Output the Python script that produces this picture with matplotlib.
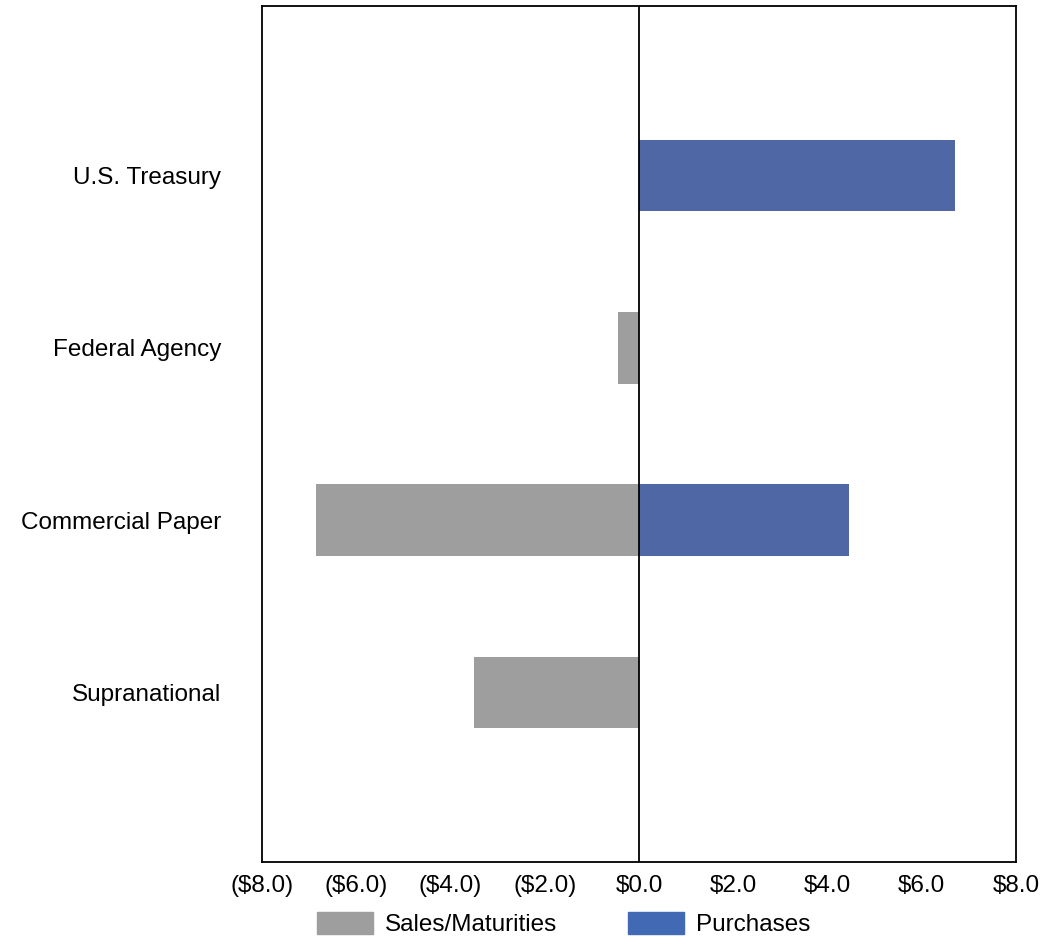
import numpy as np
import matplotlib
matplotlib.use("Agg")
import matplotlib.pyplot as plt
from matplotlib.patches import Patch

plt.rcParams["font.family"] = ["Liberation Sans", "DejaVu Sans"]

# Data ($ millions)
categories = ["U.S. Treasury", "Federal Agency", "Commercial Paper", "Supranational"]
sales = [0.0, -0.45, -6.85, -3.5]
purchases = [6.7, 0.0, 4.45, 0.0]
xticks = [-8, -6, -4, -2, 0, 2, 4, 6, 8]
xlabels = ["($8.0)", "($6.0)", "($4.0)", "($2.0)", "$0.0", "$2.0", "$4.0", "$6.0", "$8.0"]

sales_color = "#9E9E9E"
purch_color = "#4F67A5"

fig = plt.figure(figsize=(10.42, 9.39), dpi=100)
ax = fig.add_axes([0.2514, 0.0820, 0.7236, 0.9116])

y = np.arange(len(categories))
ax.barh(y, sales, height=0.413, color=sales_color)
ax.barh(y, purchases, height=0.413, color=purch_color)
ax.axvline(0, color="black", lw=1.3, zorder=5)

ax.set_xlim(-8, 8)
ax.set_ylim(3.988, -0.988)
ax.set_xticks(xticks)
ax.set_xticklabels(xlabels, fontsize=17.5)
ax.set_yticks(y)
ax.set_yticklabels(categories, fontsize=17.5)
ax.tick_params(axis="x", length=0, pad=9)
ax.tick_params(axis="y", length=0, pad=29.5)
for s in ax.spines.values():
    s.set_linewidth(1.3)
    s.set_color("black")

handles = [Patch(color="#9E9E9E", label="Sales/Maturities"),
           Patch(color="#4169B4", label="Purchases")]
fig.legend(handles=handles, loc="center", bbox_to_anchor=(0.541, 0.016), ncol=2,
           frameon=False, fontsize=17.5, handlelength=2.3, handleheight=1.0,
           handletextpad=0.5, columnspacing=2.9)

fig.savefig("out.png", dpi=100)
